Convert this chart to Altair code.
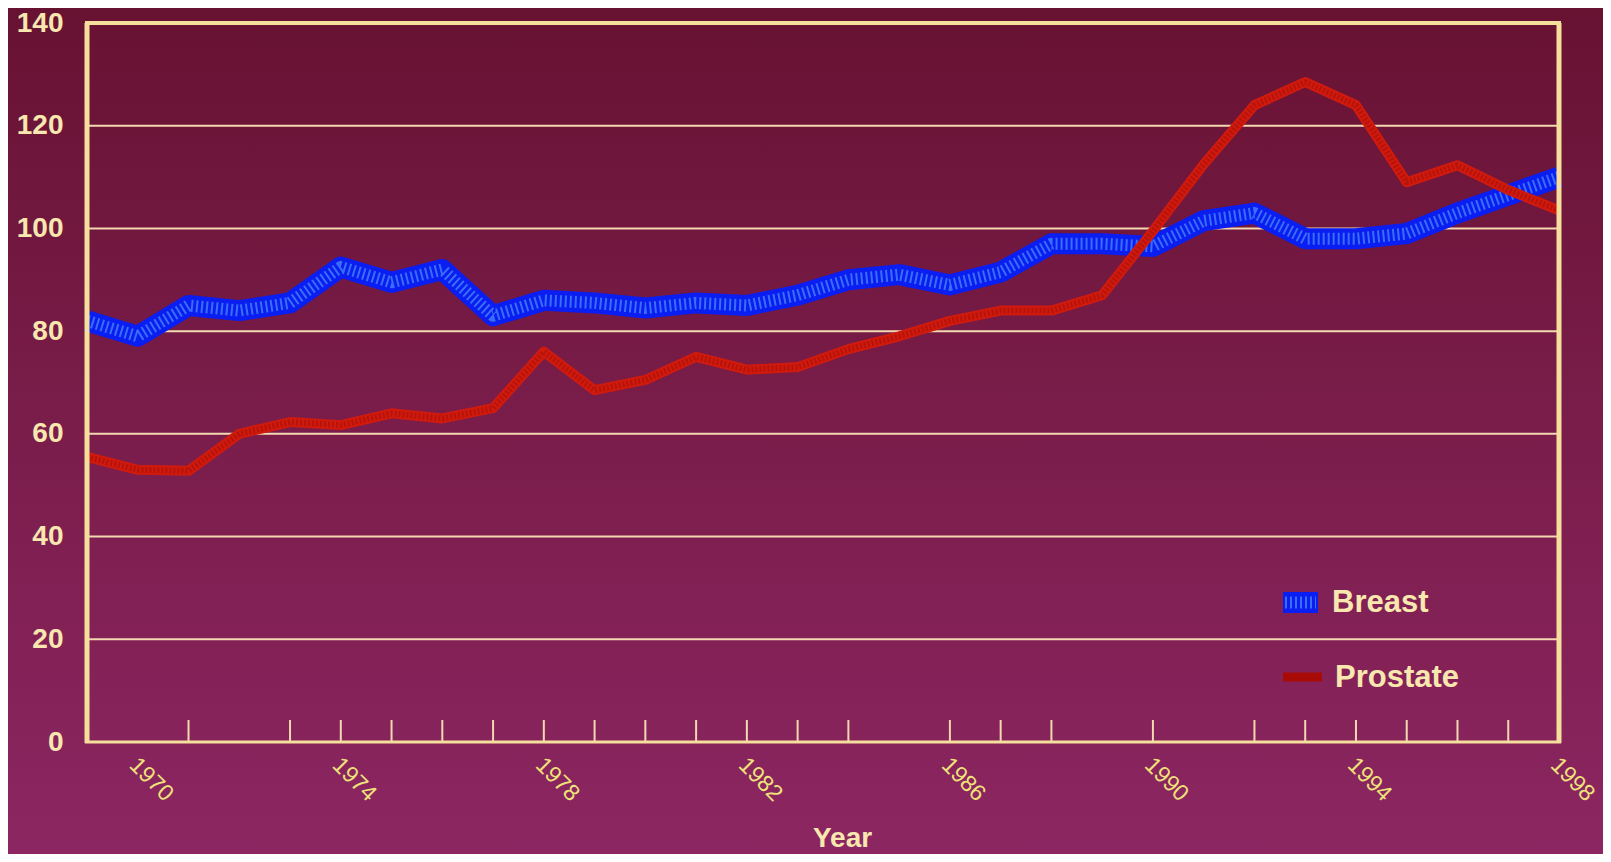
import altair as alt
import pandas as pd

years = list(range(1969, 1999))
breast = [82, 79, 85, 84, 85.5, 92.5, 89.5, 92, 83, 86, 85.5, 84.5, 85.5, 85, 87,
          90, 91, 89, 91.5, 97, 97, 96.5, 101.5, 103, 98, 98, 99, 103, 106.5, 110]
prostate = [55.5, 53, 52.8, 60, 62.3, 61.7, 64, 63, 65, 76, 68.5, 70.5, 75, 72.5, 73,
            76.5, 79, 82, 84, 84, 87, 99.5, 112.5, 124, 128.5, 124, 109, 112.3, 107.5, 103.5]
series = ["Breast", "Prostate"]
grid_values = [20, 40, 60, 80, 100, 120]
y_ticks = [0, 20, 40, 60, 80, 100, 120, 140]
label_years = [1970, 1974, 1978, 1982, 1986, 1990, 1994, 1998]
tick_years = [1971, 1973, 1974, 1975, 1976, 1977, 1978, 1979, 1980, 1981, 1982, 1983,
              1984, 1986, 1987, 1988, 1990, 1992, 1993, 1994, 1995, 1996, 1997]

W, H = 1472, 719
PAD = {"left": 79, "top": 15, "right": 44, "bottom": 112}
CREAM = "#F6DE9C"
GRID = "#F3D8B0"
LABEL = "#F8E8B0"
YEARLAB = "#F0E27A"
FONT = "Liberation Sans, Arial, sans-serif"

df_b = pd.DataFrame({"year": years, "value": breast})
df_p = pd.DataFrame({"year": years, "value": prostate})
df_grid = pd.DataFrame({"value": grid_values})
df_ticks = pd.DataFrame({"year": tick_years})
one = pd.DataFrame({"k": [0]})

xscale = alt.Scale(domain=[1969, 1998], nice=False, zero=False)
yscale = alt.Scale(domain=[0, 140], nice=False)

xaxis = alt.Axis(values=label_years, format="d", labelAngle=45, labelAlign="left",
                 labelBaseline="middle", labelPadding=19, labelOffset=-5, ticks=False,
                 domain=False, grid=False, labelFlush=False, labelOverlap=False,
                 labelBound=False, labelFont=FONT, labelFontSize=23, labelColor=YEARLAB,
                 title="Year", titleFont=FONT, titleFontSize=28, titleFontWeight="bold",
                 titleColor=LABEL, titleX=755, titleY=96, titleAlign="center",
                 titleBaseline="middle", zindex=1)
yaxis = alt.Axis(values=y_ticks, format="d", ticks=False, domain=False, grid=False,
                 labelPadding=24, labelFont=FONT, labelFontSize=28, labelFontWeight="bold",
                 labelColor=LABEL, title=None, zindex=1)

X = alt.X("year:Q", scale=xscale, axis=xaxis)
Y = alt.Y("value:Q", scale=yscale, axis=yaxis)

gradient = alt.LinearGradient(
    gradient="linear", x1=0, y1=0, x2=0, y2=1,
    stops=[alt.GradientStop(offset=0, color="#681232"),
           alt.GradientStop(offset=0.5, color="#7a1d4b"),
           alt.GradientStop(offset=1, color="#8c2662")])

bg = alt.Chart(one).mark_rect(fill=gradient, clip=False).encode(
    x=alt.value(-PAD["left"]), x2=alt.value(W + PAD["right"]),
    y=alt.value(-PAD["top"]), y2=alt.value(H + PAD["bottom"]))

grid = alt.Chart(df_grid).mark_rule(color=GRID, strokeWidth=2).encode(y=Y)

frame_top = alt.Chart(one).mark_rule(color=CREAM, strokeWidth=4).encode(
    x=alt.value(-2), x2=alt.value(W + 2), y=alt.value(0))
frame_bottom = alt.Chart(one).mark_rule(color=CREAM, strokeWidth=3).encode(
    x=alt.value(-2), x2=alt.value(W + 2), y=alt.value(H))
frame_left = alt.Chart(one).mark_rule(color=CREAM, strokeWidth=5).encode(
    x=alt.value(0), y=alt.value(0), y2=alt.value(H + 1))
frame_right = alt.Chart(one).mark_rule(color=CREAM, strokeWidth=5).encode(
    x=alt.value(W), y=alt.value(0), y2=alt.value(H + 1))

ticks = alt.Chart(df_ticks).mark_rule(color=GRID, strokeWidth=2).encode(
    x=X, y=alt.value(H), y2=alt.value(H - 22))

b_line = alt.Chart(df_b).mark_line(color="#0a1ef2", strokeWidth=21, strokeJoin="round",
                                   strokeCap="butt").encode(x=X, y=Y)
b_tex = alt.Chart(df_b).mark_line(color="#5fb0ff", strokeWidth=12, strokeDash=[2, 3],
                                  opacity=0.55, strokeJoin="round").encode(x=X, y=Y)
p_line = alt.Chart(df_p).mark_line(color="#d01a0e", strokeWidth=10, strokeJoin="round",
                                   strokeCap="butt").encode(x=X, y=Y)
p_tex = alt.Chart(df_p).mark_line(color="#9a0a05", strokeWidth=6, strokeDash=[2, 2],
                                  opacity=0.45, strokeJoin="round").encode(x=X, y=Y)

leg_b_sw = alt.Chart(one).mark_rect(color="#0a1ef2").encode(
    x=alt.value(1196), x2=alt.value(1231), y=alt.value(569), y2=alt.value(590))
leg_b_tex = alt.Chart(one).mark_rule(color="#5fb0ff", strokeWidth=12, strokeDash=[2, 3],
                                     opacity=0.55).encode(
    x=alt.value(1198), x2=alt.value(1229), y=alt.value(579.5))
leg_p_sw = alt.Chart(one).mark_rule(color="#a80a05", strokeWidth=9).encode(
    x=alt.value(1196), x2=alt.value(1235), y=alt.value(654))
leg_b_txt = alt.Chart(pd.DataFrame({"name": [series[0]]})).mark_text(
    align="left", baseline="middle", font=FONT, fontSize=31, fontWeight="bold",
    color=LABEL).encode(text="name:N", x=alt.value(1245), y=alt.value(580))
leg_p_txt = alt.Chart(pd.DataFrame({"name": [series[1]]})).mark_text(
    align="left", baseline="middle", font=FONT, fontSize=31, fontWeight="bold",
    color=LABEL).encode(text="name:N", x=alt.value(1248), y=alt.value(655))

chart = alt.layer(
    bg, grid, ticks, b_line, b_tex, p_line, p_tex,
    frame_top, frame_bottom, frame_left, frame_right,
    leg_b_sw, leg_b_tex, leg_p_sw, leg_b_txt, leg_p_txt
).properties(
    width=W, height=H, padding=PAD, autosize="none", background="#7a1d4b"
).configure_view(stroke=None)

chart.save("out.html", embed_options={"renderer": "svg", "actions": False})
